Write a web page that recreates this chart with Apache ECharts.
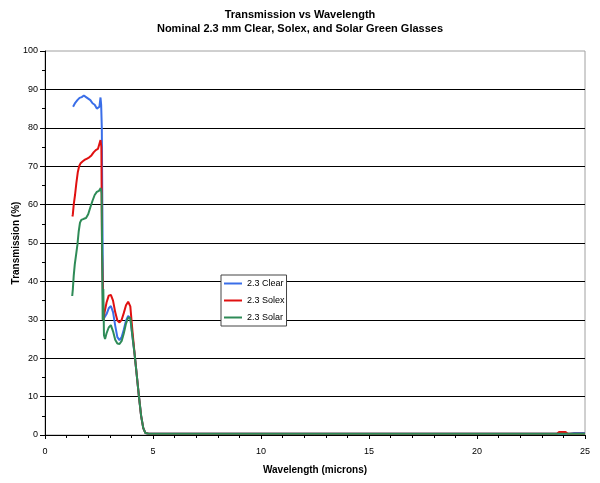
<!DOCTYPE html>
<html><head><meta charset="utf-8">
<script src="https://cdn.jsdelivr.net/npm/echarts@6/dist/echarts.min.js"></script>
<style>html,body{margin:0;padding:0;background:#fff}#c{width:600px;height:483px}</style>
</head><body><div id="c"></div>
<script>
const titleLines = ["Transmission vs Wavelength", "Nominal 2.3 mm Clear, Solex, and Solar Green Glasses"];
const seriesNames = ["2.3 Clear", "2.3 Solex", "2.3 Solar"];
const tail = [[4.15,21],[4.25,15.5],[4.35,10],[4.45,5],[4.55,1.8],[4.65,0.5],[4.8,0.3],[8,0.3],[12,0.3],[16,0.3],[20,0.3],[22.5,0.3]];
const clear = [[1.3,85.5],[1.34,85.9],[1.4,86.5],[1.5,87.2],[1.6,87.8],[1.7,88.0],[1.8,88.4],[1.9,88.0],[2.0,87.6],[2.1,87.2],[2.2,86.4],[2.3,86.0],[2.4,85.0],[2.45,84.6],[2.52,85.5],[2.57,87.9],[2.6,86],[2.63,80],[2.66,55],[2.69,30],[2.76,29.5],[2.85,31.5],[2.95,33],[3.05,33.6],[3.15,32],[3.25,28.5],[3.35,25.5],[3.45,24.7],[3.55,25.5],[3.65,27.5],[3.75,29.8],[3.85,31],[3.95,30.5],[4.05,25.6]].concat(tail,[[24.3,0.3],[24.5,0.5],[25,0.5]]);
const solex = [[1.27,56.9],[1.29,57.5],[1.33,60],[1.39,62.5],[1.45,65.5],[1.52,68.5],[1.58,70],[1.65,70.8],[1.75,71.3],[1.85,71.7],[1.95,72],[2.05,72.3],[2.15,72.8],[2.25,73.6],[2.35,74.2],[2.45,74.5],[2.52,74.7],[2.57,76.8],[2.61,75],[2.64,47],[2.67,40],[2.7,30],[2.76,32],[2.85,34.5],[2.95,36.3],[3.05,36.5],[3.15,35],[3.25,32],[3.35,29.8],[3.45,29.3],[3.55,30],[3.65,31.8],[3.75,33.8],[3.85,34.7],[3.95,33.5],[4.05,27]].concat(tail,[[23.7,0.3],[23.8,0.8],[24.1,0.8],[24.2,0.3],[25,0.3]]);
const solar = [[1.26,36.2],[1.29,38],[1.33,41.5],[1.38,44.5],[1.44,47],[1.5,49.5],[1.56,53],[1.62,55.3],[1.68,56],[1.8,56.3],[1.9,56.5],[2.0,57.5],[2.1,59.3],[2.2,61],[2.3,62.5],[2.4,63.3],[2.5,63.6],[2.58,64.3],[2.62,63],[2.65,45],[2.67,30],[2.7,38],[2.73,26],[2.78,25],[2.85,26.5],[2.95,28],[3.05,28.6],[3.15,27],[3.25,24.8],[3.35,23.8],[3.45,23.7],[3.55,24.5],[3.65,26.5],[3.75,29],[3.85,30.6],[3.95,30.5],[4.05,25.6]].concat(tail,[[25,0.3]]);
const colors = ["#3a6ee8", "#e01010", "#2e8b57"];

const chart = echarts.init(document.getElementById('c'), null, {renderer:'canvas'});
const font = "'Liberation Sans', Arial, sans-serif";
chart.setOption({
  animation:false,
  backgroundColor:'#fff',
  textStyle:{fontFamily:font},
  title:{text:titleLines.join('\n'), left:'center', top:3,
    textStyle:{fontSize:11, fontWeight:'bold', color:'#000', lineHeight:14, fontFamily:font}},
  grid:{left:45, right:15, top:51, bottom:48, containLabel:false, outerBoundsMode:'none',
    show:true, borderColor:'#a0a0a0', borderWidth:1},
  legend:{orient:'vertical', left:221, top:275,
    data:seriesNames.map(n=>({name:n, icon:'rect'})),
    backgroundColor:'#fff', borderColor:'#444', borderWidth:1, padding:[4,2,4,3],
    itemWidth:18, itemHeight:2, itemGap:8,
    textStyle:{fontSize:9, color:'#000', fontFamily:font}},
  xAxis:{type:'value', min:0, max:25, interval:5,
    name:'Wavelength (microns)', nameLocation:'middle', nameGap:30, nameMoveOverlap:false,
    nameTextStyle:{fontSize:10, fontWeight:'bold', color:'#000'},
    axisLine:{lineStyle:{color:'#000'}}, axisTick:{inside:false, length:4, lineStyle:{color:'#000'}},
    minorTick:{show:true, splitNumber:5, length:3, lineStyle:{color:'#000'}},
    axisLabel:{fontSize:9, color:'#000', margin:12},
    splitLine:{show:false}},
  yAxis:{type:'value', min:0, max:100, interval:10,
    name:'Transmission (%)', nameLocation:'middle', nameGap:24, nameMoveOverlap:false,
    nameTextStyle:{fontSize:10, fontWeight:'bold', color:'#000'},
    axisLine:{show:true, lineStyle:{color:'#000'}}, axisTick:{show:true, inside:false, length:5, lineStyle:{color:'#000'}},
    minorTick:{show:true, splitNumber:2, length:3, lineStyle:{color:'#000'}},
    axisLabel:{fontSize:9, color:'#000', margin:7},
    splitLine:{show:true, showMaxLine:false, showMinLine:false, lineStyle:{color:'#000', width:1}}},
  series:[clear, solex, solar].map((d,i)=>({
    name:seriesNames[i], type:'line', data:d, symbol:'none', showSymbol:false,
    lineStyle:{color:colors[i], width:2}, itemStyle:{color:colors[i]}
  }))
});
</script></body></html>
